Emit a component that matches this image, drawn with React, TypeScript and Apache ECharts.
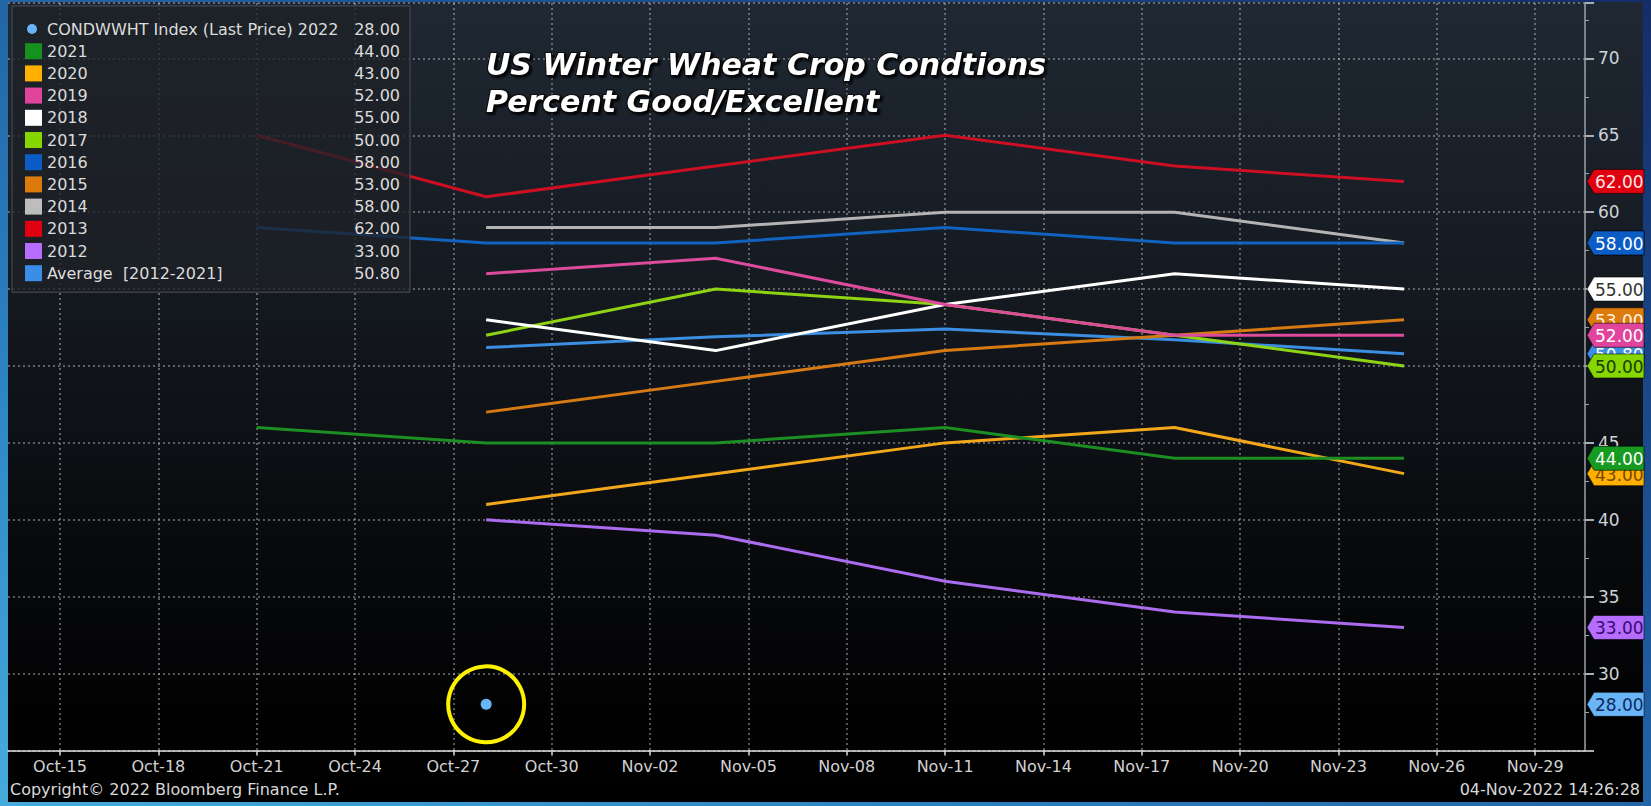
import React, { useEffect, useRef } from "react";
import * as echarts from "echarts";

// ---------- data ----------
const axisStartDate = "2022-10-15";
const tickDates = [
  "2022-10-15", "2022-10-18", "2022-10-21", "2022-10-24", "2022-10-27", "2022-10-30",
  "2022-11-02", "2022-11-05", "2022-11-08", "2022-11-11", "2022-11-14", "2022-11-17",
  "2022-11-20", "2022-11-23", "2022-11-26", "2022-11-29",
];
const weekDates = ["2022-10-21", "2022-10-28", "2022-11-04", "2022-11-11", "2022-11-18", "2022-11-25"];

const y2022 = [null, 28, null, null, null, null];
const y2021 = [46, 45, 45, 46, 44, 44];
const y2020 = [null, 41, 43, 45, 46, 43];
const y2019 = [null, 56, 57, 54, 52, 52];
const y2018 = [null, 53, 51, 54, 56, 55];
const y2017 = [null, 52, 55, 54, 52, 50];
const y2016 = [59, 58, 58, 59, 58, 58];
const y2015 = [null, 47, 49, 51, 52, 53];
const y2014 = [null, 59, 59, 60, 60, 58];
const y2013 = [65, 61, 63, 65, 63, 62];
const y2012 = [null, 40, 39, 36, 34, 33];
const yAvg = [null, 51.2, 51.9, 52.4, 51.7, 50.8];

const names = [
  "CONDWWHT Index (Last Price) 2022", "2021", "2020", "2019", "2018", "2017",
  "2016", "2015", "2014", "2013", "2012", "Average  [2012-2021]",
];
const values = [y2022, y2021, y2020, y2019, y2018, y2017, y2016, y2015, y2014, y2013, y2012, yAvg];

const titleLines = ["US Winter Wheat Crop Condtions", "Percent Good/Excellent"];
const copyrightText = "Copyright\u00a9 2022 Bloomberg Finance L.P.";
const stampText = "04-Nov-2022 14:26:28";

// ---------- styles ----------
const lineColors = [
  "#6ab4f8", "#1c8f22", "#f3a81c", "#dc4b9c", "#ffffff", "#8fd414",
  "#1262c0", "#d77a14", "#b4b4b4", "#cc0f22", "#ac6cf0", "#3b8ee0",
];
const swatchColors = [
  "#6ab4f8", "#15921e", "#ffb000", "#e0449c", "#ffffff", "#86d600",
  "#0b5cc4", "#dc7a0c", "#bdbdbd", "#e0000f", "#b56cff", "#3a8ee6",
];
const tagBg = [
  "#6ab4f8", "#179a20", "#ffb000", "#e0449c", "#ffffff", "#86d600",
  "#0b5cc4", "#dc7a0c", "#bdbdbd", "#e0000f", "#b56cff", "#3a8ee6",
];
const tagFg = [
  "#0b2a5a", "#ffffff", "#7a4800", "#ffffff", "#333333", "#1a3a00",
  "#ffffff", "#fff2e0", "#222222", "#ffe6e6", "#3a0a70", "#ffffff",
];
const FONT = '"DejaVu Sans", Verdana, sans-serif';

const MS_DAY = 86400000;
const dayOffset = (d: string) => (Date.parse(d) - Date.parse(axisStartDate)) / MS_DAY;
const MONTHS = ["Jan", "Feb", "Mar", "Apr", "May", "Jun", "Jul", "Aug", "Sep", "Oct", "Nov", "Dec"];
const fmtDay = (v: number) => {
  const dt = new Date(Date.parse(axisStartDate) + Math.round(v) * MS_DAY);
  const dd = dt.getUTCDate();
  return MONTHS[dt.getUTCMonth()] + "-" + (dd < 10 ? "0" + dd : "" + dd);
};

const lastOf = (arr: (number | null)[]) => {
  for (let i = arr.length - 1; i >= 0; i--) if (arr[i] != null) return arr[i] as number;
  return null;
};

export default function App() {
  const ref = useRef<HTMLDivElement>(null);

  useEffect(() => {
    document.body.style.margin = "0";
    if (!ref.current) return;
    const chart = echarts.init(ref.current, null, { renderer: "svg" });

    const xTicks = tickDates.map(dayOffset);
    const pairs = (arr: (number | null)[]) =>
      weekDates.map((d, i) => [dayOffset(d), arr[i]] as [number, number | null]).filter((p) => p[1] != null);

    const lastMap: Record<string, string> = {};
    names.forEach((n, i) => {
      const lv = lastOf(values[i]);
      lastMap[n] = lv == null ? "" : lv.toFixed(2);
    });

    const dotIcon =
      "image://data:image/svg+xml;charset=utf-8," +
      encodeURIComponent(
        '<svg xmlns="http://www.w3.org/2000/svg" width="17" height="16"><circle cx="7" cy="8" r="5" fill="#6ab4f8"/></svg>'
      );

    const series: any[] = [];
    const drawOrder = [11, 10, 9, 8, 7, 6, 5, 4, 3, 2, 1];
    drawOrder.forEach((i) => {
      series.push({
        name: names[i],
        type: "line",
        data: pairs(values[i]),
        color: swatchColors[i],
        showSymbol: false,
        symbol: "none",
        lineStyle: { width: 3, color: lineColors[i] },
        z: 3,
        silent: true,
      });
    });
    series.push({
      name: "ring",
      type: "scatter",
      data: pairs(y2022),
      symbol: "circle",
      symbolSize: 76,
      itemStyle: { color: "rgba(0,0,0,0)", borderColor: "#fff200", borderWidth: 4, opacity: 1 },
      z: 4,
      silent: true,
    });
    series.push({
      name: names[0],
      type: "scatter",
      data: pairs(y2022),
      color: swatchColors[0],
      symbol: "circle",
      symbolSize: 11,
      itemStyle: { color: lineColors[0], opacity: 1 },
      z: 5,
      silent: true,
    });
    const tagData = [11, 10, 9, 8, 7, 6, 5, 4, 3, 2, 1, 0].map((i) => {
      const arr = values[i];
      let li = arr.length - 1;
      while (li >= 0 && arr[li] == null) li--;
      return [dayOffset(weekDates[li]), arr[li], i];
    });
    series.push({
      name: "tags",
      type: "custom",
      data: tagData,
      clip: false,
      silent: true,
      z: 10,
      renderItem: (params: any, api: any) => {
        const v = api.value(1);
        const idx = api.value(2);
        const pt = api.coord([api.value(0), v]);
        const y = pt[1];
        const cs = params.coordSys;
        const x0 = cs.x + cs.width + 2;
        return {
          type: "group",
          children: [
            {
              type: "polygon",
              shape: {
                points: [
                  [x0, y],
                  [x0 + 7, y - 12],
                  [x0 + 57, y - 12],
                  [x0 + 57, y + 12],
                  [x0 + 7, y + 12],
                ],
              },
              style: { fill: tagBg[idx], stroke: "rgba(0,0,0,0.55)", lineWidth: 1 },
            },
            {
              type: "text",
              x: x0 + 8,
              y: y + 1,
              style: {
                text: Number(v).toFixed(2),
                fill: tagFg[idx],
                font: "17px " + FONT,
                align: "left",
                verticalAlign: "middle",
              },
            },
          ],
        };
      },
    });

    const gridLine = { color: "rgba(205,210,215,0.55)", width: 1.5, type: [2, 3] as any };

    chart.setOption({
      animation: false,
      backgroundColor: "transparent",
      textStyle: { fontFamily: FONT },
      title: {
        text: titleLines.join("\n"),
        left: 486,
        top: 46,
        padding: 0,
        textStyle: {
          color: "#ffffff",
          fontSize: 30,
          fontWeight: "bold",
          fontStyle: "italic",
          fontFamily: FONT,
          lineHeight: 37,
          textBorderColor: "#0a0a0a",
          textBorderWidth: 2,
          textShadowColor: "rgba(0,0,0,0.9)",
          textShadowBlur: 2,
          textShadowOffsetX: 2,
          textShadowOffsetY: 2,
        },
      },
      legend: {
        show: true,
        orient: "vertical",
        left: 12,
        top: 6,
        padding: [15, 10, 11, 13],
        itemWidth: 17,
        itemHeight: 16,
        itemGap: 6.2,
        icon: "rect",
        selectedMode: false,
        backgroundColor: "rgba(30,33,38,0.78)",
        borderColor: "#4a4f56",
        borderWidth: 1,
        itemStyle: { borderWidth: 0 },
        data: names.map((n, i) =>
          i === 0 ? { name: n, icon: dotIcon } : { name: n, itemStyle: { color: swatchColors[i], borderWidth: 0 } }
        ),
        formatter: (name: string) => "{n|" + name + "}{v|" + lastMap[name] + "}",
        textStyle: {
          color: "#dcdcdc",
          fontSize: 16,
          fontFamily: FONT,
          rich: {
            n: { width: 299, fontSize: 16, lineHeight: 16, color: "#dcdcdc", fontFamily: FONT },
            v: { width: 54, align: "right", fontSize: 16, lineHeight: 16, color: "#dcdcdc", fontFamily: FONT },
          },
        },
      },
      grid: { left: 8, right: 66, top: 3, bottom: 55.5, containLabel: false },
      xAxis: {
        type: "value",
        min: -1.586,
        max: 46.52,
        axisLine: { show: true, onZero: false, lineStyle: { color: "#e6e6e6", width: 1.5, type: [2, 1] as any } },
        axisTick: { show: true, customValues: xTicks, length: 5, lineStyle: { color: "#dddddd", width: 1.5 } },
        axisLabel: {
          show: true,
          customValues: xTicks,
          formatter: (v: number) => fmtDay(v),
          color: "#d2d2d2",
          fontSize: 16,
          fontFamily: FONT,
          margin: 8,
        },
        splitLine: { show: true, lineStyle: gridLine },
      },
      yAxis: {
        type: "value",
        position: "right",
        min: 25,
        max: 73.6,
        interval: 5,
        axisLine: { show: true, onZero: false, lineStyle: { color: "#9ca2a8", width: 1.5 } },
        axisTick: { show: true, length: 9, lineStyle: { color: "#a8aeb4", width: 2 } },
        minorTick: { show: true, splitNumber: 2, length: 4, lineStyle: { color: "#9ca2a8", width: 1 } },
        axisLabel: {
          show: true,
          color: "#cfd3d8",
          fontSize: 17,
          fontFamily: FONT,
          margin: 13,
          showMinLabel: false,
          showMaxLabel: false,
        },
        splitLine: { show: true, lineStyle: gridLine },
      },
      graphic: [
        {
          type: "text",
          left: 10,
          top: 781,
          style: { text: copyrightText, fill: "#d8d8d8", font: "16px " + FONT },
        },
        {
          type: "text",
          right: 11,
          top: 781,
          style: { text: stampText, fill: "#d8d8d8", font: "16px " + FONT },
        },
      ],
      series,
    });

    return () => chart.dispose();
  }, []);

  return (
    <div
      style={{
        position: "relative",
        width: 1651,
        height: 806,
        overflow: "hidden",
        background: "linear-gradient(to top right, #46acdc 0%, #2a7fbf 30%, #1d5699 62%, #142d68 100%)",
      }}
    >
      <div
        style={{
          position: "absolute",
          left: 8,
          top: 2,
          width: 1635,
          height: 800,
          background: "linear-gradient(to bottom, #1f2833 0%, #151a21 35%, #090b0e 65%, #020203 88%, #000000 100%)",
        }}
      />
      <div ref={ref} style={{ position: "absolute", left: 0, top: 0, width: 1651, height: 806 }} />
    </div>
  );
}
